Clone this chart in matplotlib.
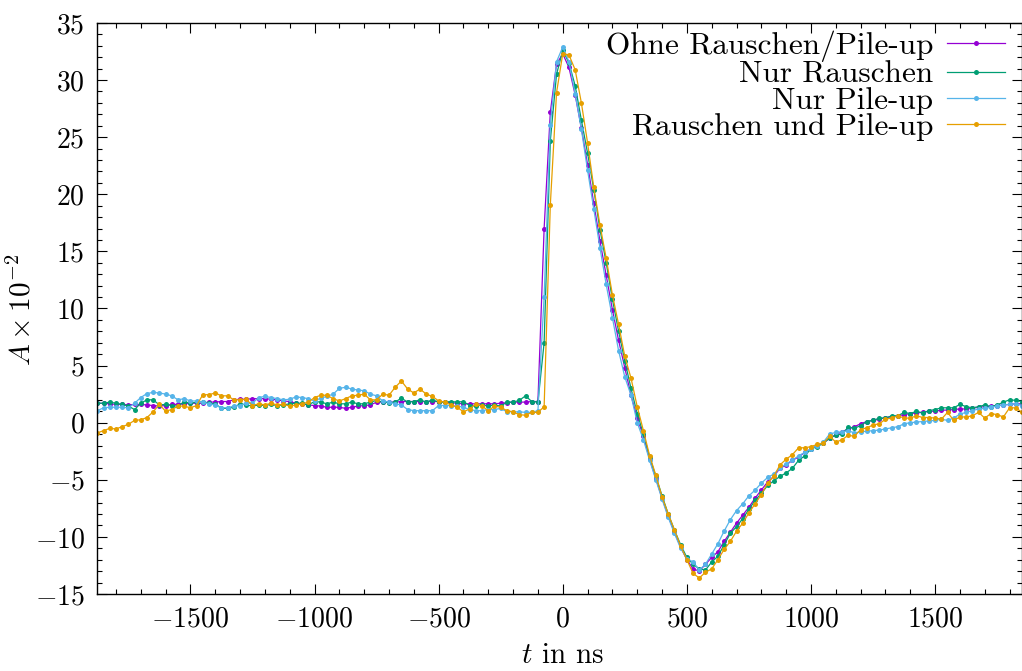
#!/usr/bin/env python3
import numpy as np
import matplotlib
matplotlib.use("Agg")
import matplotlib.pyplot as plt
from matplotlib.ticker import MultipleLocator

plt.rcParams['font.family'] = 'serif'
plt.rcParams['font.serif'] = ['cmr10']
plt.rcParams['mathtext.fontset'] = 'cm'
plt.rcParams['axes.formatter.use_mathtext'] = True

# time axis: 25 ns sampling
t = np.arange(-1875, 1851, 25)

# amplitudes (x 10^-2)
ohne = [1.7, 1.7, 1.65, 1.6, 1.6, 1.55, 1.6, 1.6, 1.55, 1.5, 1.45, 1.5, 1.6, 1.6, 1.65, 1.7, 1.7, 1.7, 1.8, 1.8,
        1.85, 1.85, 2.0, 2.05, 2.05, 2.1, 2.1, 2.1, 2.05, 2.0, 1.9, 1.85, 1.7, 1.65, 1.55,
        1.5, 1.45, 1.35, 1.35, 1.35, 1.25, 1.35, 1.45, 1.5, 1.55, 1.8, 1.8, 1.8, 1.8, 1.85, 1.85, 1.85, 1.85,
        1.85, 1.85, 1.85, 1.8, 1.75, 1.7, 1.65, 1.65, 1.65, 1.65, 1.65, 1.65, 1.7, 1.75, 1.8, 1.8, 1.8, 1.85, 1.85,
        17.0,
        27.2, 31.4, 32.3, 31.1, 28.7, 25.8, 22.6, 19.2, 15.9, 12.9, 9.9, 7.2, 4.8, 2.4, 0.4, -1.2, -3.2, -4.9,
        -6.6, -8.2, -9.6, -10.9, -12.0, -12.8, -13.0, -12.4, -11.8, -11.3, -10.4, -9.6, -8.8, -8.1, -7.4, -6.6,
        -5.9, -5.2, -4.7,
        -4.0, -3.7, -3.3, -3.0, -2.6, -2.3, -2.0, -1.8, -1.35, -1.05, -0.8, -0.55, -0.35, -0.1, 0.1, 0.2, 0.3,
        0.45, 0.5, 0.6, 0.7, 0.8, 0.85, 0.9, 1.0, 1.0, 1.1, 1.1, 1.15, 1.2, 1.2, 1.25, 1.35, 1.4, 1.45, 1.5,
        1.55, 1.6, 1.65, 1.65]

rauschen = [1.7, 1.7, 1.8, 1.7, 1.6, 1.45, 1.15, 1.7, 2.0, 2.0, 1.55, 1.6, 1.5, 1.45, 1.85, 1.7, 1.8, 1.85,
            1.7, 1.65, 1.25, 1.25, 1.35, 1.65, 1.55, 1.45, 1.55, 1.5, 1.6, 1.5, 1.55, 1.65, 1.7, 1.7, 1.55,
            1.85, 1.8, 1.65, 1.8, 1.65, 1.65, 1.8, 1.65, 1.65, 1.8, 1.95, 1.8, 1.75, 1.8, 2.15, 1.8, 1.85, 2.0,
            1.8, 2.0, 1.8, 1.8, 1.85, 1.8, 1.85, 1.5, 1.45, 1.55, 1.45, 1.55, 1.45, 1.8, 1.8, 1.95, 2.35, 1.85, 1.8,
            7.0,
            24.7, 30.5, 32.6, 31.5, 29.5, 26.5, 23.6, 20.4, 16.9, 14.0, 10.8, 8.0, 5.4, 3.0, 0.8, -1.0, -3.0,
            -4.7, -6.4, -8.0, -9.4, -10.7, -11.8, -12.4, -12.8, -12.9, -12.2, -11.7, -10.7, -9.7, -9.1, -8.4,
            -7.6, -6.8, -6.2, -5.5, -5.1,
            -4.7, -4.4, -4.0, -3.3, -2.9, -2.3, -2.1, -1.8, -1.35, -1.1, -1.0, -0.4, -0.5, -0.25, 0.1, 0.2, 0.4,
            0.4, 0.6, 0.6, 0.9, 0.8, 1.0, 0.85, 1.05, 1.15, 1.3, 1.3, 1.3, 1.6, 1.4, 1.3, 1.4, 1.55, 1.4, 1.55,
            1.8, 2.0, 1.95, 1.85]

pileup = [1.05, 1.3, 1.35, 1.35, 1.35, 1.3, 1.7, 2.2, 2.55, 2.65, 2.6, 2.5, 2.35, 2.0, 2.1, 1.9, 1.9, 1.8,
          1.65, 1.55, 1.3, 1.3, 1.45, 1.5, 1.7, 1.7, 2.2, 2.3, 2.2, 2.1, 2.0, 2.05, 2.25, 2.2, 2.1,
          1.9, 2.15, 2.3, 2.5, 3.0, 3.1, 2.95, 2.85, 2.8, 2.5, 2.35, 1.9, 1.8, 1.65, 1.55, 1.15, 1.05, 1.05,
          1.05, 1.05, 1.5, 1.5, 1.5, 1.45, 1.35, 1.15, 1.05, 1.05, 1.15, 1.15, 1.25, 0.95, 0.95, 0.95, 0.9, 0.9, 1.05,
          11.0,
          26.1, 31.6, 32.9, 31.6, 28.8, 25.7, 22.1, 18.7, 15.3, 12.1, 9.2, 6.3, 4.0, 2.4, 0.0, -1.5, -3.3,
          -5.0, -6.7, -8.3, -9.7, -11.0, -11.9, -12.2, -12.9, -12.4, -11.5, -10.6, -9.5, -8.5, -7.7, -7.1,
          -6.4, -5.9, -5.3, -4.8, -4.5,
          -4.0, -3.6, -3.3, -2.9, -2.6, -2.3, -2.0, -1.7, -1.0, -0.85, -0.8, -0.7, -0.9, -0.8, -0.75, -0.7,
          -0.65, -0.55, -0.45, -0.35, -0.1, 0.0, 0.05, 0.1, 0.15, 0.2, 0.3, 0.2, 0.4, 0.75, 0.9, 1.05, 1.2,
          1.25, 1.35, 1.45, 1.55, 1.6, 1.65, 1.5]

beides = [-0.9, -0.7, -0.5, -0.55, -0.35, -0.15, 0.2, 0.25, 0.45, 0.95, 1.6, 1.0, 1.15, 1.45, 1.45, 1.3, 1.5,
          2.45, 2.45, 2.6, 2.35, 2.35, 2.0, 2.0, 2.05, 1.5, 1.65, 1.55, 1.7, 1.55, 1.6, 1.45, 1.55, 1.65, 1.8,
          2.2, 2.4, 2.4, 2.1, 1.9, 2.1, 2.35, 2.4, 2.5, 2.0, 2.0, 2.5, 2.4, 3.1, 3.65, 2.95, 2.6, 2.95, 2.5,
          2.3, 1.9, 1.8, 1.55, 1.35, 0.95, 1.2, 1.65, 1.45, 1.05, 1.45, 1.35, 1.05, 0.95, 0.7, 0.65, 0.9, 0.9,
          1.4,
          19.1, 28.9, 32.3, 32.2, 30.9, 28.0, 24.5, 20.6, 17.3, 14.4, 11.2, 8.6, 5.8, 3.9, 1.4, -0.7, -2.9,
          -4.6, -6.5, -8.0, -9.4, -10.8, -12.0, -13.2, -13.6, -13.1, -12.8, -12.0, -11.1, -10.4, -9.5, -8.8,
          -7.9, -7.1, -6.3, -5.3, -4.7,
          -3.7, -3.2, -2.8, -2.2, -2.2, -2.1, -1.9, -1.8, -1.2, -1.7, -1.5, -1.1, -1.2, -0.6, -0.45, -0.2,
          -0.1, 0.3, 0.4, 0.6, 0.4, 0.4, 0.6, 0.45, 0.45, 0.4, 0.3, 0.9, 0.2, 0.5, 0.5, 0.6, 0.9, 0.4, 0.8,
          0.7, 0.5, 1.3, 1.3, 0.9]

series = [
    (ohne, "Ohne Rauschen/Pile-up", "#9400d3"),
    (rauschen, "Nur Rauschen", "#009e73"),
    (pileup, "Nur Pile-up", "#56b4e9"),
    (beides, "Rauschen und Pile-up", "#e69f00"),
]

fig = plt.figure(figsize=(10.22, 6.71), dpi=100)
ax = fig.add_axes([0.0952, 0.1148, 0.9048, 0.851])

for y, lab, col in series:
    ax.plot(t, y, color=col, lw=0.9, marker='o', ms=3.6, mew=0, label=lab)

ax.set_xlim(-1875, 1850)
ax.set_ylim(-15, 35)
ax.xaxis.set_major_locator(MultipleLocator(500))
ax.xaxis.set_minor_locator(MultipleLocator(100))
ax.yaxis.set_major_locator(MultipleLocator(5))
ax.yaxis.set_minor_locator(MultipleLocator(1))
ax.tick_params(which='both', direction='in', top=True, right=True, labelsize=20, width=0.8)
ax.tick_params(which='major', length=7, pad=9)
ax.tick_params(which='minor', length=3.5)
for s in ax.spines.values():
    s.set_linewidth(1.0)

ax.set_xlabel(r"$t$ in ns", fontsize=21)
ax.xaxis.set_label_coords(0.503, -0.086)
ax.set_ylabel(r"$A \times 10^{-2}$", fontsize=21)
ax.yaxis.set_label_coords(-0.066, 0.497)

ax.legend(loc='upper right', frameon=False, markerfirst=False, fontsize=22.5,
          handlelength=1.85, labelspacing=-0.05, borderaxespad=0, borderpad=0,
          handletextpad=0.45, bbox_to_anchor=(0.9816, 0.9865))

fig.savefig("out.png", dpi=100)
